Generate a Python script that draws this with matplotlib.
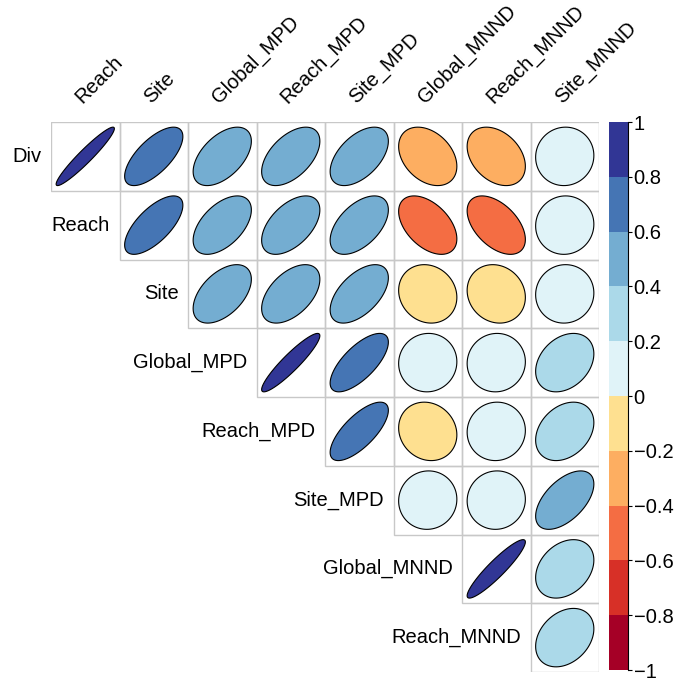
import numpy as np
import matplotlib
matplotlib.use("Agg")
import matplotlib.pyplot as plt
from matplotlib.patches import Polygon, Rectangle

plt.rcParams['font.family'] = ['Liberation Sans', 'DejaVu Sans']

row_names = ['Div', 'Reach', 'Site', 'Global_MPD', 'Reach_MPD', 'Site_MPD',
             'Global_MNND', 'Reach_MNND']
col_names = ['Reach', 'Site', 'Global_MPD', 'Reach_MPD', 'Site_MPD',
             'Global_MNND', 'Reach_MNND', 'Site_MNND']

# upper triangle, one list per row (starting at the diagonal column)
r_div = [0.95, 0.68, 0.52, 0.52, 0.52, -0.34, -0.34, 0.03]
r_reach = [0.68, 0.52, 0.52, 0.52, -0.47, -0.49, 0.03]
r_site = [0.50, 0.50, 0.55, -0.12, -0.12, 0.03]
r_gmpd = [0.92, 0.70, 0.03, 0.03, 0.30]
r_rmpd = [0.72, -0.12, 0.03, 0.30]
r_smpd = [0.03, 0.03, 0.55]
r_gmnnd = [0.92, 0.30]
r_rmnnd = [0.30]
rows = [r_div, r_reach, r_site, r_gmpd, r_rmpd, r_smpd, r_gmnnd, r_rmnnd]

bin_colors = ['#A50026', '#D73027', '#F46D43', '#FDAE61', '#FEE090',
              '#E0F3F8', '#ABD9E9', '#74ADD1', '#4575B4', '#313695']
cbar_ticks = [-1, -0.8, -0.6, -0.4, -0.2, 0, 0.2, 0.4, 0.6, 0.8, 1]

FS = 14.5


def color_for(v):
    idx = int(np.floor((v + 1) / 0.2))
    return bin_colors[min(max(idx, 0), 9)]


def ellipse_pts(rho, cx, cy, n=99):
    k = np.linspace(0, 2 * np.pi, n)
    d = np.arccos(rho)
    x = 0.85 * np.cos(k + d / 2) / 2
    y = 0.85 * np.cos(k - d / 2) / 2
    return np.column_stack([cx + x, cy - y])


fig = plt.figure(figsize=(6.77, 6.84), dpi=100)
W, H = 677, 684
ax = fig.add_axes([51 / W, (H - 672) / H, 548 / W, 550 / H])
ax.set_xlim(0, 8)
ax.set_ylim(8, 0)
ax.axis('off')

for i, vals in enumerate(rows):
    for n, v in enumerate(vals):
        j = i + n
        ax.add_patch(Rectangle((j, i), 1, 1, fill=False, edgecolor='#C8C8C8',
                               lw=1.0, zorder=1))
        ax.add_patch(Polygon(ellipse_pts(v, j + 0.5, i + 0.5), closed=True,
                             facecolor=color_for(v), edgecolor='black',
                             lw=0.8, zorder=2))
    ax.text(i - 0.14, i + 0.5, row_names[i], ha='right', va='center',
            fontsize=FS, clip_on=False)

for j, name in enumerate(col_names):
    ax.text(j + 0.5, -0.22, name, rotation=45, rotation_mode='anchor',
            ha='left', va='bottom', fontsize=FS, clip_on=False)

# colour legend
cax = fig.add_axes([609 / W, (H - 670) / H, 19 / W, 548 / H])
for b, c in enumerate(bin_colors):
    cax.add_patch(Rectangle((0, -1 + 0.2 * b), 1, 0.2, facecolor=c,
                            edgecolor='none'))
cax.set_xlim(0, 1)
cax.set_ylim(-1, 1)
for name, s in cax.spines.items():
    s.set_visible(name == 'right')
cax.spines['right'].set_linewidth(0.8)
cax.set_xticks([])
cax.yaxis.tick_right()
cax.set_yticks(cbar_ticks)
cax.set_yticklabels(['1' if t == 1 else '\u22121' if t == -1 else
                     ('0' if t == 0 else f'{t:g}'.replace('-', '\u2212'))
                     for t in cbar_ticks], fontsize=FS)
cax.tick_params(axis='y', length=3, width=0.8, pad=1)

fig.savefig('out.png', dpi=100)
